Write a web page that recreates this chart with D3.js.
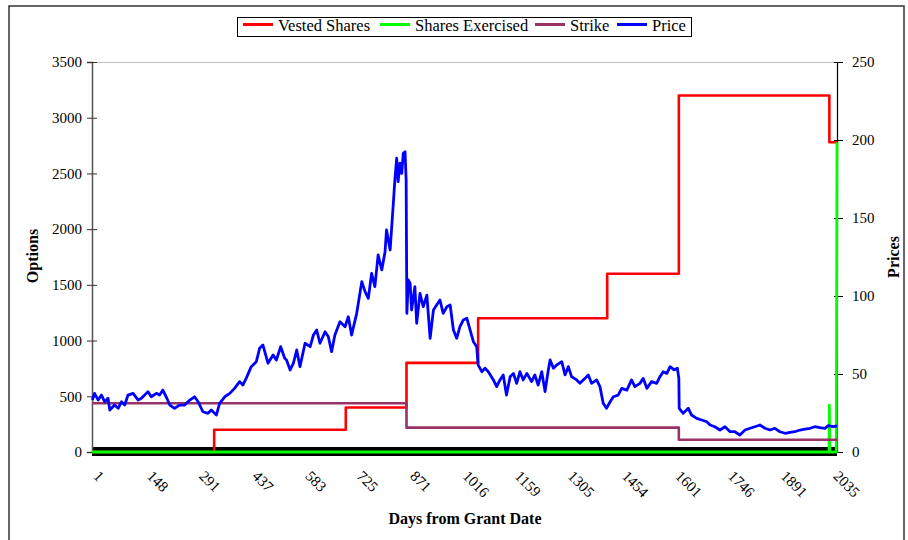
<!DOCTYPE html>
<html>
<head>
<meta charset="utf-8">
<script src="https://cdn.jsdelivr.net/npm/d3@7"></script>
<style>
  html, body { margin: 0; padding: 0; background: #fff; }
  svg text { font-family: "Liberation Serif", "Times New Roman", serif; fill: #000; }
</style>
</head>
<body>
<svg id="chart" width="908" height="540"></svg>
<script>
// ---- data ----
const legendNames = ["Vested Shares", "Shares Exercised", "Strike", "Price"];
const seriesColors = ["#ff0000", "#00ff00", "#993366", "#0000ff"];

const leftTicks = [0, 500, 1000, 1500, 2000, 2500, 3000, 3500];
const rightTicks = [0, 50, 100, 150, 200, 250];
const dayLabels = [1, 148, 291, 437, 583, 725, 871, 1016, 1159, 1305, 1454, 1601, 1746, 1891, 2035];

// vested shares (options axis), value holds from each day onward
const vestedDays = [0, 336, 698, 865, 1062, 1417, 1614, 2028, 2049];
const vestedShares = [0, 200, 400, 800, 1200, 1600, 3200, 2780, 2780];

// shares exercised (options axis)
const exercisedDays = [0, 2027, 2028, 2029, 2047, 2049];
const exercisedShares = [0, 0, 420, 0, 0, 2780];

// strike price (price axis), holds from each day onward
const strikeDays = [0, 865, 1614, 2049];
const strikePrices = [31.25, 15.625, 7.8125, 7.8125];

// share price (price axis): [day, price]
const priceSeries = [
  [1,33.3],[7,37.6],[17,33.3],[26,36.5],[35,32.2],[44,34.4],[49,26.9],[62,30.1],[72,28.0],[81,32.2],
  [90,30.1],[99,36.5],[113,37.6],[127,33.3],[136,34.4],[154,38.7],[163,35.4],[177,37.6],[186,36.5],[195,39.7],
  [204,35.4],[214,30.1],[227,28.0],[241,30.1],[255,30.1],[269,33.3],[282,35.4],[292,32.2],[305,25.8],[319,24.8],
  [328,26.9],[342,23.7],[351,31.2],[365,35.4],[379,37.6],[392,40.8],[406,45.1],[415,42.9],[424,47.2],[438,54.7],
  [452,57.9],[461,66.5],[470,68.6],[484,56.9],[498,62.2],[507,59.0],[519,67.5],[530,60.1],[535,59.0],[545,52.6],
  [554,56.9],[563,65.4],[572,54.7],[586,69.7],[600,67.5],[609,75.0],[618,78.2],[627,69.7],[641,77.1],[650,73.9],
  [659,64.3],[668,75.0],[682,83.5],[696,80.3],[705,86.7],[714,75.0],[728,88.9],[742,109.2],[751,102.8],[760,98.5],
  [769,114.5],[778,106.0],[787,126.3],[797,116.7],[806,128.4],[810,142.3],[820,129.5],[829,160.4],[833,174.4],[838,188.3],
  [842,173.3],[847,185.1],[852,178.6],[856,191.5],[861,192.5],[864,174.4],[866,88.9],[870,110.3],[875,108.1],[879,91.0],
  [888,106.0],[893,82.5],[902,101.7],[911,93.1],[921,100.6],[930,72.9],[939,91.0],[948,94.2],[957,97.4],[966,88.9],
  [976,93.1],[985,94.2],[994,78.2],[1003,72.9],[1012,80.3],[1021,84.6],[1031,85.7],[1040,78.2],[1049,70.7],[1058,67.5],
  [1062,55.8],[1072,51.5],[1081,53.7],[1090,51.5],[1104,46.2],[1113,41.9],[1122,46.2],[1131,49.4],[1140,36.5],[1150,48.3],
  [1159,50.4],[1168,44.0],[1177,51.5],[1186,46.2],[1196,50.4],[1209,45.1],[1218,49.4],[1227,42.9],[1237,51.5],[1246,38.7],
  [1255,52.6],[1260,59.0],[1269,53.7],[1278,55.8],[1292,57.9],[1301,49.4],[1310,54.7],[1319,48.3],[1333,46.2],[1342,44.0],
  [1356,47.2],[1365,49.4],[1374,44.0],[1388,46.2],[1397,41.9],[1406,31.2],[1415,28.0],[1425,32.2],[1434,35.4],[1447,36.5],
  [1457,40.8],[1471,39.7],[1484,46.2],[1493,41.9],[1507,44.0],[1516,47.2],[1526,40.8],[1539,45.1],[1553,44.0],[1562,48.3],
  [1571,51.5],[1581,50.4],[1590,54.7],[1601,52.6],[1610,53.7],[1614,47.2],[1615,28.0],[1626,24.8],[1640,28.0],[1649,23.7],
  [1663,21.6],[1677,20.5],[1691,19.4],[1700,17.3],[1713,16.2],[1727,14.1],[1741,16.2],[1755,13.0],[1768,13.0],[1782,10.9],
  [1796,14.1],[1810,15.2],[1823,16.2],[1837,17.3],[1851,15.2],[1865,14.1],[1878,15.2],[1892,13.0],[1906,12.0],[1920,12.6],
  [1933,13.0],[1947,14.1],[1961,14.7],[1975,15.2],[1988,16.2],[2002,15.6],[2016,15.2],[2025,16.9],[2039,16.2],[2049,16.7]
];

// ---- layout ----
const svg = d3.select("#chart");
const plot = { left: 92, right: 837, top: 62, bottom: 452 };

const x = d3.scaleLinear().domain([0, 2049]).range([plot.left, plot.right]);
const yL = d3.scaleLinear().domain([0, 3500]).range([plot.bottom, plot.top]);
const yR = d3.scaleLinear().domain([0, 250]).range([plot.bottom, plot.top]);

// chart frame
svg.append("rect")
  .attr("x", 9).attr("y", 6).attr("width", 895).attr("height", 540)
  .attr("fill", "none").attr("stroke", "#333").attr("stroke-width", 1.5);

// plot area top border
svg.append("line")
  .attr("x1", plot.left).attr("x2", plot.right)
  .attr("y1", plot.top + 0.5).attr("y2", plot.top + 0.5)
  .attr("stroke", "#bdbdbd").attr("stroke-width", 1);

// thick base line along zero
svg.append("line")
  .attr("x1", plot.left).attr("x2", plot.right)
  .attr("y1", yL(0) - 0.5).attr("y2", yL(0) - 0.5)
  .attr("stroke", "#000").attr("stroke-width", 9);

// ---- axes ----
const leftAxis = svg.append("g")
  .attr("transform", `translate(${plot.left},0)`)
  .call(d3.axisLeft(yL).tickValues(leftTicks).tickSize(5).tickPadding(5).tickFormat(d3.format("d")));
leftAxis.select(".domain").attr("stroke", "#555").attr("stroke-width", 1.5);
leftAxis.selectAll(".tick line").attr("x1", 5).attr("stroke", "#333");
leftAxis.selectAll(".tick text").attr("font-size", 15).attr("fill", "#111");

const rightAxis = svg.append("g")
  .attr("transform", `translate(${plot.right},0)`)
  .call(d3.axisRight(yR).tickValues(rightTicks).tickSize(6).tickPadding(9).tickFormat(d3.format("d")));
rightAxis.select(".domain").attr("stroke", "#000").attr("stroke-width", 1.2);
rightAxis.selectAll(".tick line").attr("x1", -3).attr("stroke", "#000");
rightAxis.selectAll(".tick text").attr("font-size", 15).attr("fill", "#111");

// rotated day labels along the bottom
const bottomAxis = svg.append("g")
  .attr("transform", `translate(0,${plot.bottom})`)
  .call(d3.axisBottom(x).tickValues(dayLabels).tickSize(0).tickFormat(d3.format("d")));
bottomAxis.select(".domain").remove();
bottomAxis.selectAll(".tick text")
  .attr("font-size", 15).attr("fill", "#111")
  .attr("text-anchor", "start")
  .attr("y", 0).attr("dy", 0)
  .attr("transform", "translate(0,25) rotate(45)");

// axis titles
svg.append("text")
  .attr("transform", "translate(38,256) rotate(-90)")
  .attr("text-anchor", "middle").attr("font-size", 16).attr("font-weight", "bold")
  .text("Options");
svg.append("text")
  .attr("transform", "translate(899,257) rotate(-90)")
  .attr("text-anchor", "middle").attr("font-size", 16).attr("font-weight", "bold")
  .text("Prices");
svg.append("text")
  .attr("x", 465).attr("y", 524)
  .attr("text-anchor", "middle").attr("font-size", 16).attr("font-weight", "bold")
  .text("Days from Grant Date");

// ---- series ----
const stepLine = (xs, ys, yScale) =>
  d3.line().curve(d3.curveStepAfter).x(i => x(xs[i])).y(i => yScale(ys[i]))(d3.range(xs.length));
const plainLine = (xs, ys, yScale) =>
  d3.line().x(i => x(xs[i])).y(i => yScale(ys[i]))(d3.range(xs.length));

const g = svg.append("g").attr("fill", "none").attr("stroke-linejoin", "round");

g.append("path")
  .attr("d", stepLine(vestedDays, vestedShares, yL))
  .attr("stroke", seriesColors[0]).attr("stroke-width", 2.6);

g.append("path")
  .attr("d", plainLine(exercisedDays, exercisedShares, yL))
  .attr("stroke", seriesColors[1]).attr("stroke-width", 2.8);

g.append("path")
  .attr("d", stepLine(strikeDays, strikePrices, yR))
  .attr("stroke", seriesColors[2]).attr("stroke-width", 2.6);

g.append("path")
  .attr("d", d3.line().x(d => x(d[0])).y(d => yR(d[1]))(priceSeries))
  .attr("stroke", seriesColors[3]).attr("stroke-width", 2.8);

// ---- legend ----
const legend = svg.append("g");
legend.append("rect")
  .attr("x", 237.5).attr("y", 17.5).attr("width", 454).attr("height", 19)
  .attr("fill", "#fff").attr("stroke", "#000").attr("stroke-width", 1);
const legendX = [243, 380, 535, 617];
legendNames.forEach((name, i) => {
  legend.append("line")
    .attr("x1", legendX[i]).attr("x2", legendX[i] + 30)
    .attr("y1", 24.5).attr("y2", 24.5)
    .attr("stroke", seriesColors[i]).attr("stroke-width", 3);
  legend.append("text")
    .attr("x", legendX[i] + 35).attr("y", 30.5)
    .attr("font-size", 16.5)
    .text(name);
});
</script>
</body>
</html>
